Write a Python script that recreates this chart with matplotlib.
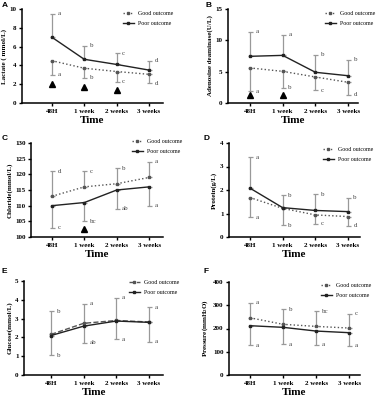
import matplotlib
matplotlib.use("Agg")
import matplotlib.pyplot as plt

plt.rcParams['font.family'] = ['Liberation Serif', 'DejaVu Serif']
plt.rcParams['mathtext.fontset'] = 'custom'
plt.rcParams['mathtext.rm'] = 'Liberation Serif:bold'
plt.rcParams['mathtext.default'] = 'rm'

times = ["48H", "1 week", "2 weeks", "3 weeks"]

# A - lactate
lac_good = [4.5, 3.7, 3.35, 3.05]
lac_good_lo = [3.0, 2.7, 2.25, 2.1]
lac_poor = [7.0, 4.65, 4.1, 3.5]
lac_poor_hi = [9.5, 6.1, 5.3, 4.5]
lac_tri = [2.05, 1.7, 1.4, None]
lac_let_good = ["a", "b", "c", "d"]
lac_let_poor = ["a", "b", "c", "d"]

# B - adenosine deaminase
ada_good = [5.6, 5.05, 4.15, 3.3]
ada_good_lo = [1.9, 2.4, 2.0, 1.3]
ada_poor = [7.45, 7.6, 4.9, 4.35]
ada_poor_hi = [11.4, 10.9, 7.7, 6.9]
ada_tri = [1.2, 1.2, None, None]
ada_let_good = ["a", "b", "c", "d"]
ada_let_poor = ["a", "a", "b", "b"]

# C - chloride
chl_good = [113, 116, 117, 119]
chl_good_hi = [121, 121, 122, 124]
chl_poor = [110, 111, 115, 116]
chl_poor_lo = [103, 105, 109, 110]
chl_tri = [None, 102.6, None, None]
chl_let_good = ["d", "c", "b", "a"]
chl_let_poor = ["c", "bc", "ab", "a"]

# D - protein
pro_good = [1.68, 1.22, 0.94, 0.87]
pro_good_lo = [0.83, 0.51, 0.56, 0.47]
pro_poor = [2.08, 1.25, 1.13, 1.08]
pro_poor_hi = [3.4, 1.77, 1.81, 1.68]
pro_let_good = ["a", "b", "c", "d"]
pro_let_poor = ["a", "b", "b", "b"]

# E - glucose
glu_good = [2.16, 2.75, 2.9, 2.82]
glu_good_hi = [3.4, 3.8, 4.1, 3.6]
glu_poor = [2.1, 2.6, 2.87, 2.8]
glu_poor_lo = [1.06, 1.72, 1.9, 1.77]
glu_let_good = ["b", "a", "a", "a"]
glu_let_poor = ["b", "ab", "a", "a"]

# F - pressure
pre_good = [246, 218, 209, 202]
pre_good_hi = [310, 282, 275, 263]
pre_poor = [212, 205, 189, 182]
pre_poor_lo = [128, 132, 130, 125]
pre_let_good = ["a", "b", "bc", "c"]
pre_let_poor = ["a", "a", "a", "a"]

fig = plt.figure(figsize=(3.76, 4.0), dpi=100)
W, H = 376.0, 400.0


def box(l, t, r, b):
    return [l / W, 1 - b / H, (r - l) / W, (b - t) / H]


def panel(rect, letter, letter_xy, good, good_end, poor, poor_end, let_good, let_poor,
          yticks, ylabel, xlim, leg_xy, tri=None, good_ls=':', good_up=False):
    ax = fig.add_axes(rect)
    x = list(range(len(times)))
    gcol = '#555555'
    pcol = '#222222'
    ecol = '#999999'
    # error bars, one sided
    g_err = [[g - e for g, e in zip(good, good_end)], [0] * 4]
    p_err = [[0] * 4, [e - p for p, e in zip(poor, poor_end)]]
    if good_up:
        g_err = [[0] * 4, [e - g for g, e in zip(good, good_end)]]
        p_err = [[p - e for p, e in zip(poor, poor_end)], [0] * 4]
    ax.errorbar(x, good, yerr=g_err, fmt='none', ecolor=ecol, elinewidth=0.9, capsize=1.8, capthick=0.9)
    ax.errorbar(x, poor, yerr=p_err, fmt='none', ecolor=ecol, elinewidth=0.9, capsize=1.8, capthick=0.9)
    ax.plot(x, good, linestyle=good_ls, color=gcol, lw=1.0, marker='s', ms=2, label='Good outcome')
    ax.plot(x, poor, linestyle='-', color=pcol, lw=1.0, marker='s', ms=2, label='Poor outcome')
    for i in x:
        ax.text(i + 0.17, good_end[i], let_good[i], fontsize=5, color='#444444',
                ha='left', va='center')
        ax.text(i + 0.17, poor_end[i], let_poor[i], fontsize=5, color='#444444',
                ha='left', va='center')
    if tri is not None:
        for i in x:
            if tri[i] is not None:
                ax.plot(i, tri[i], marker='^', color='black', ms=5, ls='none')
    ax.set_xlim(*xlim)
    ax.set_ylim(yticks[0], yticks[-1])
    ax.set_yticks(yticks)
    ax.set_xticks(x)
    ax.set_xticklabels(times, fontsize=5, fontweight='bold')
    for t in ax.get_yticklabels():
        t.set_fontsize(5)
        t.set_fontweight('bold')
    ax.set_xlabel('Time', fontsize=8, fontweight='bold', labelpad=2)
    ax.set_ylabel(ylabel, fontsize=5, fontweight='bold', labelpad=2)
    for s in ['top', 'right']:
        ax.spines[s].set_visible(False)
    for s in ['left', 'bottom']:
        ax.spines[s].set_linewidth(1.1)
    ax.tick_params(direction='out', length=2.5, width=1.0, pad=1.5)
    ax.legend(loc='upper left', bbox_to_anchor=(leg_xy[0] / W, 1 - leg_xy[1] / H),
              bbox_transform=fig.transFigure, frameon=False, fontsize=4.2,
              handlelength=1.9, handletextpad=0.7, labelspacing=0.9, borderpad=0)
    fig.text(letter_xy[0] / W, 1 - letter_xy[1] / H, letter, fontsize=6, fontweight='bold',
             family='Liberation Sans', ha='left', va='top')
    return ax


panel(box(22, 9, 163, 103), 'A', (2, 2), lac_good, lac_good_lo, lac_poor, lac_poor_hi,
      lac_let_good, lac_let_poor, [0, 2, 4, 6, 8, 10], 'Lactate ( mmol/L)',
      (-0.92, 3.43), (120, 8), tri=lac_tri)
panel(box(228, 9, 358, 103), 'B', (206, 2), ada_good, ada_good_lo, ada_poor, ada_poor_hi,
      ada_let_good, ada_let_poor, [0, 5, 10, 15], 'Adenosine deaminase(U/L)',
      (-0.67, 3.3), (322, 8), tri=ada_tri)
panel(box(31, 143, 163, 237), 'C', (2, 135), chl_good, chl_good_hi, chl_poor, chl_poor_lo,
      chl_let_good, chl_let_poor, [100, 105, 110, 115, 120, 125, 130], 'Chloride(mmol/L)',
      (-0.65, 3.43), (129, 136), tri=chl_tri, good_up=True)
panel(box(229, 143, 360, 237), 'D', (204, 135), pro_good, pro_good_lo, pro_poor, pro_poor_hi,
      pro_let_good, pro_let_poor, [0, 1, 2, 3, 4], 'Protein(g/L)',
      (-0.64, 3.37), (320, 144))
panel(box(24, 281, 163, 375), 'E', (2, 268), glu_good, glu_good_hi, glu_poor, glu_poor_lo,
      glu_let_good, glu_let_poor, [0, 1, 2, 3, 4, 5], 'Glucose(mmol/L)',
      (-0.83, 3.43), (126, 277), good_ls='--', good_up=True)
panel(box(229, 282, 360, 375), 'F', (204, 268), pre_good, pre_good_hi, pre_poor, pre_poor_lo,
      pre_let_good, pre_let_poor, [0, 100, 200, 300, 400], r'Pressure(mmH$_2$O)',
      (-0.64, 3.33), (318, 280), good_up=True)

fig.savefig('out.png', dpi=100)
